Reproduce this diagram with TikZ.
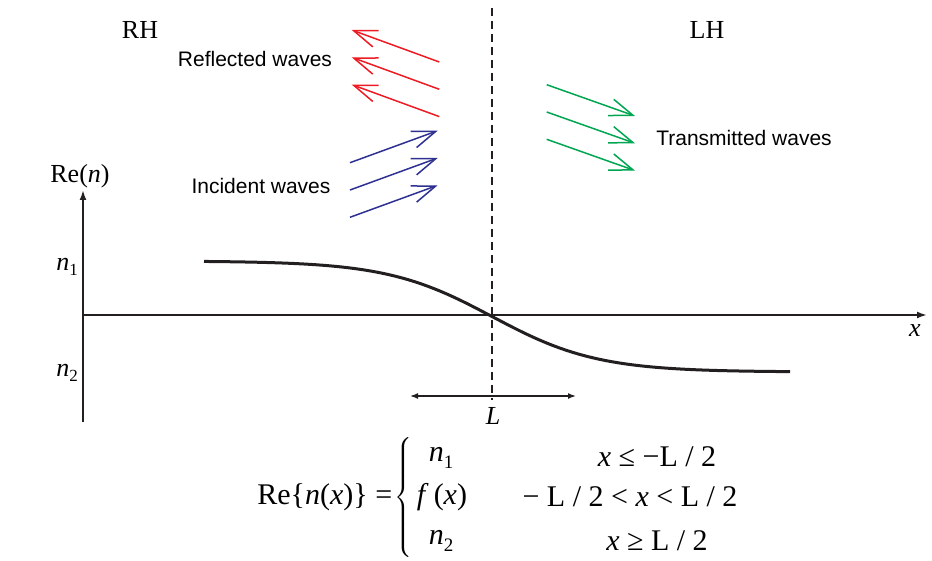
\documentclass[tikz,border=0pt]{standalone}
\usepackage{fontspec}
\setmainfont{Liberation Serif}
\newfontfamily\wavefont{Liberation Sans}
\usetikzlibrary{arrows.meta}
\definecolor{reflectred}{HTML}{ED1C24}
\definecolor{incidentblue}{HTML}{2E3192}
\definecolor{transgreen}{HTML}{00A651}
\definecolor{profileink}{HTML}{231F20}

\begin{document}
\begin{tikzpicture}[
  x=0.5pt,
  y=-0.5pt,
  line join=round,
  wave/.style={line width=0.75pt,-{Straight Barb[length=11.7pt,width=8.6pt]}},
  reflected/.style={wave,draw=reflectred},
  incident/.style={wave,draw=incidentblue},
  transmitted/.style={wave,draw=transgreen},
  axis/.style={draw=profileink,line width=1pt,-{Latex[length=5pt,width=3.5pt]}},
  span/.style={draw=profileink,line width=0.75pt,{Latex[length=4pt,width=3pt]}-{Latex[length=4pt,width=3pt]}},
  interface/.style={draw=profileink,line width=0.75pt,dash pattern=on 4pt off 2.5pt},
  profile/.style={draw=profileink,line width=1.5pt},
  wavetext/.style={font=\wavefont\fontsize{10.5}{12}\selectfont,inner sep=0pt},
  sidetext/.style={font=\fontsize{13}{15}\selectfont,inner sep=0pt},
  eqtext/.style={font=\fontsize{15}{17}\selectfont,inner sep=0pt}
]
  \useasboundingbox (0,0) rectangle (932,561);

  % Axes of the index profile; the x axis starts on the Re(n) axis.
  \coordinate (O) at (83,315);
  \coordinate (Xend) at (927,315);
  \coordinate (Ybot) at (83,422);
  \coordinate (Ytop) at (83,190);
  \draw[axis] (O) -- (Xend);
  \draw[axis] (Ybot) -- (Ytop);

  % Interface between the two media.
  \coordinate (Itop) at (492,8);
  \coordinate (Ibot) at (492,400);
  \draw[interface] (Itop) -- (Ibot);

  % Smooth transition from n1 to n2 across the interface.
  \draw[profile] plot[domain=204:790,samples=90] (\x,{316.5+55.5*tanh((\x-492)/105)});

  % Width L of the transition layer.
  \coordinate (Lleft) at (410,396);
  \coordinate (Lright) at (576,396);
  \draw[span] (Lleft) -- (Lright);
  \node[sidetext] (Llab) at (493,416) {\textit{L}};

  % Three waves of each kind, stacked 27.3 apart.
  \foreach \k in {0,1,2} {
    \coordinate (rtail\k) at (439.3,{62+27.3*\k});
    \coordinate (rtip\k) at (351.7,{30+27.3*\k});
    \coordinate (itail\k) at (350,{162.7+27.3*\k});
    \coordinate (itip\k) at (437.7,{130.7+27.3*\k});
    \coordinate (ttail\k) at (546.7,{84.7+27.3*\k});
    \coordinate (ttip\k) at (635,{116+27.3*\k});
    \draw[reflected] (rtail\k) -- (rtip\k);
    \draw[incident] (itail\k) -- (itip\k);
    \draw[transmitted] (ttail\k) -- (ttip\k);
  }

  % Labels.
  \node[sidetext] (rh) at (140,30) {RH};
  \node[sidetext] (lh) at (707,30) {LH};
  \node[wavetext] (reflab) at (255,59) {Reflected waves};
  \node[wavetext] (inclab) at (261,186) {Incident waves};
  \node[wavetext] (tralab) at (744,138) {Transmitted waves};
  \node[sidetext] (relab) at (80,176) {Re(\textit{n})};
  \node[sidetext] (n1lab) at (67,267) {\textit{n}\raisebox{-0.45ex}{\fontsize{8.5}{9}\selectfont 1}};
  \node[sidetext] (n2lab) at (67,373) {\textit{n}\raisebox{-0.45ex}{\fontsize{8.5}{9}\selectfont 2}};
  \node[sidetext] (xlab) at (915,331) {\textit{x}};

  % Piecewise definition of the profile.
  \node[eqtext,anchor=west] (lhs) at (257,497) {Re\{\textit{n}(\textit{x})\} =};
  \node[inner sep=0pt] (brace) at (405,500) {$\left\{\vrule height 30pt depth 30pt width 0pt\right.$};
  \node[eqtext] (case1) at (441,458) {\textit{n}\raisebox{-0.45ex}{\fontsize{9.5}{10}\selectfont 1}};
  \node[eqtext] (case2) at (442,497) {\textit{f}\,(\textit{x})};
  \node[eqtext] (case3) at (441,541) {\textit{n}\raisebox{-0.45ex}{\fontsize{9.5}{10}\selectfont 2}};
  \node[eqtext] (cond1) at (657,457) {\textit{x} ≤ −L / 2};
  \node[eqtext] (cond2) at (630,497) {− L / 2 < \textit{x} < L / 2};
  \node[eqtext] (cond3) at (657,541) {\textit{x} ≥ L / 2};
\end{tikzpicture}
\end{document}
